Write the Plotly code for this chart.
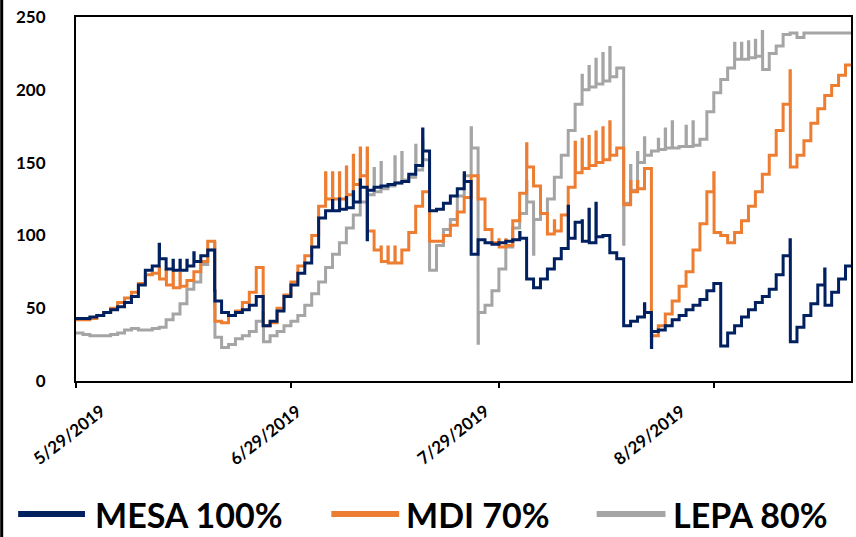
import datetime as dt
import plotly.graph_objects as go

# Daily series, one value per day starting 5/29/2019
start = dt.datetime(2019, 5, 29)

mesa_base = [
    43, 43, 44, 45, 47, 49, 51, 54, 58, 66,
    76, 79, 84, 77, 76, 76, 79, 82, 86, 90,
    55, 47, 45, 47, 49, 52, 58, 38, 41, 48,
    58, 66, 74, 81, 92, 112, 117, 117, 118, 119,
    123, 133, 131, 133, 134, 135, 136, 137, 142, 148,
    158, 117, 118, 122, 127, 132, 137, 87, 97, 95,
    94, 95, 96, 97, 98, 70, 64, 70, 77, 84,
    91, 98, 109, 96, 95, 99, 100, 88, 84, 38,
    41, 44, 47, 34, 35, 38, 42, 45, 49, 52,
    56, 62, 67, 24, 33, 38, 44, 49, 54, 58,
    63, 73, 86, 27, 37, 45, 53, 66, 52, 61,
    70, 79, 85,
]
mesa_spike_day = [12, 14, 15, 16, 17, 20, 37, 38, 39, 40, 41, 42, 50, 56, 64, 71, 73, 74, 75, 82, 83, 103, 108]
mesa_spike_val = [94, 83, 83, 83, 88, 62, 124, 125, 126, 130, 138, 97, 173, 143, 102, 120, 110, 118, 122, 53, 23, 97, 77]

mdi_base = [
    42, 42, 43, 45, 47, 50, 54, 57, 61, 67,
    73, 74, 70, 66, 64, 65, 69, 75, 82, 96,
    41, 40, 45, 48, 54, 61, 78, 38, 40, 50,
    59, 68, 79, 86, 100, 120, 125, 125, 125, 128,
    135, 141, 103, 90, 82, 81, 81, 90, 102, 120,
    130, 96, 96, 100, 107, 116, 126, 141, 125, 104,
    95, 92, 93, 110, 129, 147, 134, 115, 101, 103,
    114, 133, 143, 146, 148, 150, 152, 155, 160, 121,
    130, 132, 146, 31, 38, 46, 55, 65, 75, 90,
    108, 130, 102, 100, 95, 102, 110, 120, 130, 142,
    155, 172, 190, 147, 155, 165, 177, 187, 196, 203,
    210, 217, 221,
]
mdi_spike_day = [12, 13, 14, 15, 20, 36, 37, 38, 39, 40, 41, 42, 44, 45, 46, 61, 62, 65, 69, 72, 73, 74, 75, 76, 77, 80, 81, 92, 103]
mdi_spike_val = [78, 76, 75, 74, 52, 143, 143, 143, 147, 155, 160, 160, 92, 92, 92, 97, 97, 163, 110, 164, 166, 168, 171, 174, 178, 137, 137, 143, 213]

lepa_base = [
    33, 32, 31, 31, 31, 32, 33, 35, 36, 35,
    35, 36, 37, 42, 46, 53, 63, 68, 80, 90,
    30, 23, 25, 29, 31, 34, 41, 27, 31, 34,
    38, 41, 45, 52, 60, 68, 78, 87, 95, 105,
    114, 123, 128, 130, 132, 134, 136, 138, 140, 145,
    152, 76, 93, 104, 111, 127, 141, 160, 47, 52,
    62, 77, 92, 105, 115, 123, 111, 115, 125, 140,
    155, 172, 190, 200, 202, 204, 206, 209, 215, 122,
    131, 150, 155, 158, 159, 160, 160, 161, 161, 162,
    166, 185, 198, 207, 215, 221, 221, 222, 223, 214,
    225, 230, 238, 239, 236, 239, 239, 239, 239, 239,
    239, 239, 239,
]
lepa_spike_day = [20, 27, 42, 43, 44, 46, 47, 49, 50, 57, 58, 65, 66, 73, 74, 75, 76, 77, 79, 80, 81, 82, 84, 85, 86, 88, 89, 95, 96, 97, 98, 99]
lepa_spike_val = [95, 47, 144, 146, 150, 154, 157, 162, 165, 174, 26, 137, 87, 210, 216, 221, 225, 229, 94, 148, 157, 167, 166, 173, 178, 175, 178, 232, 232, 233, 234, 240]

series_names = ["MESA 100%", "MDI 70%", "LEPA 80%"]
series_colors = ["#002060", "#ED7D31", "#A5A5A5"]

tick_dates = ["2019-05-29", "2019-06-29", "2019-07-29", "2019-08-29"]
tick_labels = ["5/29/2019", "6/29/2019", "7/29/2019", "8/29/2019"]
y_ticks = [0, 50, 100, 150, 200, 250]


def build(base, spike_day, spike_val):
    """Daily steps; a spike is a brief excursion at the start of its day."""
    spikes = dict(zip(spike_day, spike_val))
    xs, ys = [], []
    for i, v in enumerate(base):
        d = start + dt.timedelta(days=i)
        if i in spikes:
            xs.append(d)
            ys.append(spikes[i])
            xs.append(d + dt.timedelta(hours=1))
            ys.append(v)
        else:
            xs.append(d)
            ys.append(v)
    return xs, ys


fig = go.Figure()
data = [
    (mesa_base, mesa_spike_day, mesa_spike_val),
    (mdi_base, mdi_spike_day, mdi_spike_val),
    (lepa_base, lepa_spike_day, lepa_spike_val),
]
# draw order: grey underneath, then orange, navy on top
for idx in [2, 1, 0]:
    xs, ys = build(*data[idx])
    fig.add_trace(go.Scatter(
        x=xs, y=ys, mode="lines", name=series_names[idx],
        line=dict(color=series_colors[idx], width=3, shape="hv"),
        showlegend=False,
    ))

W, H = 856, 537
L, R, T, B = 76, 3, 17, 156
pw, ph = W - L - R, H - T - B


def px_x(p):
    return (p - L) / pw


def px_y(p):
    return (H - B - p) / ph


fig.update_layout(
    width=W, height=H,
    margin=dict(l=L, r=R, t=T, b=B),
    paper_bgcolor="white", plot_bgcolor="white",
    xaxis=dict(
        type="date",
        range=["2019-05-29", "2019-09-17 19:00"],
        tickvals=tick_dates, showticklabels=False,
        ticks="outside", ticklen=5, tickwidth=2, tickcolor="black",
        showline=True, linecolor="black", linewidth=2, mirror=True,
        showgrid=False, zeroline=False,
    ),
    yaxis=dict(
        range=[0, 250], tickvals=y_ticks,
        tickfont=dict(family="Lato", size=17, color="black", weight="bold"),
        ticks="", ticklabelstandoff=25,
        showline=True, linecolor="black", linewidth=2, mirror=True,
        showgrid=False, zeroline=False,
    ),
)

# rotated date labels under the axis
label_centers = [69, 266, 454, 651]
for cx, txt in zip(label_centers, tick_labels):
    fig.add_annotation(
        text=txt, xref="paper", yref="paper",
        x=px_x(cx), y=px_y(435), xanchor="center", yanchor="middle",
        textangle=-38, showarrow=False,
        font=dict(family="Lato", size=17, color="black", weight="bold"),
    )

# legend row along the bottom
legend_items = [(18, 85, 93), (332, 400, 405), (598, 667, 673)]
for (x0, x1, tx), name, color in zip(legend_items, series_names, series_colors):
    fig.add_shape(
        type="line", xref="paper", yref="paper",
        x0=px_x(x0), x1=px_x(x1), y0=px_y(514), y1=px_y(514),
        line=dict(color=color, width=6),
    )
    fig.add_annotation(
        text=name, xref="paper", yref="paper",
        x=px_x(tx), y=px_y(514), xanchor="left", yanchor="middle",
        showarrow=False,
        font=dict(family="Lato", size=34, color="black", weight="bold"),
    )

# dark strip along the left edge of the page
fig.add_shape(
    type="rect", xref="paper", yref="paper",
    x0=px_x(0), x1=px_x(3), y0=px_y(H), y1=px_y(0),
    fillcolor="black", line=dict(width=0),
)

fig.write_html("out.html")
